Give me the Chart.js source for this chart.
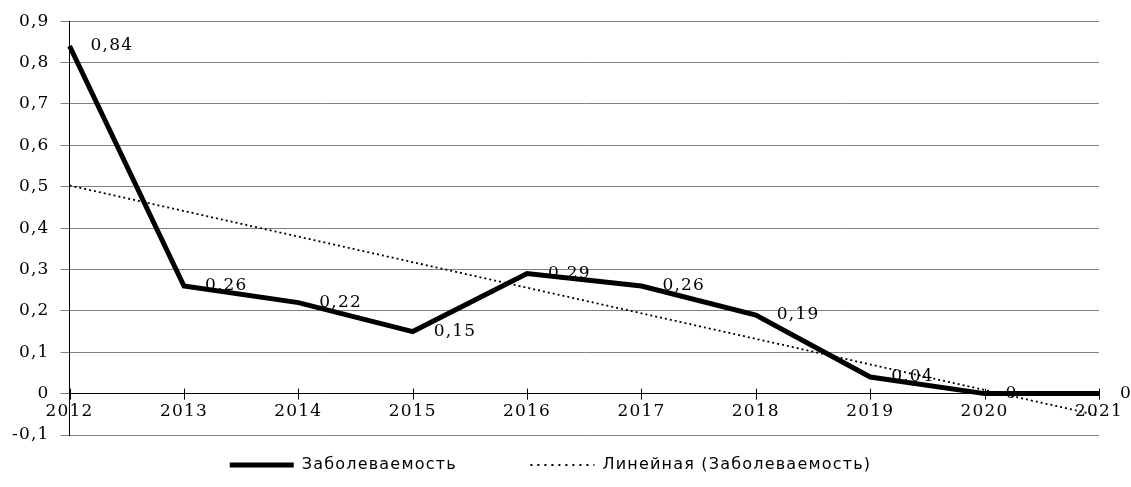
<!DOCTYPE html>
<html>
<head>
<meta charset="utf-8">
<script src="https://cdn.jsdelivr.net/npm/chart.js@4"></script>
<style>
  html, body { margin: 0; padding: 0; background: #fff; }
  #wrap { width: 1131px; height: 487px; }
</style>
</head>
<body>
<div id="wrap"><canvas id="incidenceChart"></canvas></div>
<script>
const years = ["2012", "2013", "2014", "2015", "2016", "2017", "2018", "2019", "2020", "2021"];
const incidence = [0.84, 0.26, 0.22, 0.15, 0.29, 0.26, 0.19, 0.04, 0, 0];
// linear trend, only the two end points are kept
const trend = [0.503, null, null, null, null, null, null, null, null, -0.053];
const seriesNames = ["Заболеваемость", "Линейная (Заболеваемость)"];
const yMin = -0.1;
const yMax = 0.9;

const serif = "'DejaVu Serif', 'Liberation Serif', serif";
const sans = "'DejaVu Sans', Verdana, sans-serif";

function fmt(v) {
  return String(Math.round(v * 100) / 100).replace(".", ",");
}

// slightly wider lettering for every text on the canvas
const spacing = {
  id: "spacing",
  beforeLayout(chart) { chart.ctx.letterSpacing = "1.2px"; },
  beforeDraw(chart) { chart.ctx.letterSpacing = "1.2px"; },
};

// value labels next to each point of the main series
const valueLabels = {
  id: "valueLabels",
  afterDatasetsDraw(chart) {
    const meta = chart.getDatasetMeta(0);
    const ctx = chart.ctx;
    ctx.save();
    ctx.font = "17px " + serif;
    ctx.fillStyle = "#000";
    ctx.textAlign = "left";
    ctx.textBaseline = "middle";
    meta.data.forEach((pt, i) => {
      ctx.fillText(fmt(incidence[i]), pt.x + 21, pt.y);
    });
    ctx.restore();
  },
};

// tick marks crossing the category axis
const crossTicks = {
  id: "crossTicks",
  afterDraw(chart) {
    const x = chart.scales.x;
    const y0 = chart.scales.y.getPixelForValue(0);
    const ctx = chart.ctx;
    ctx.save();
    ctx.strokeStyle = "#000";
    ctx.lineWidth = 1;
    ctx.beginPath();
    years.forEach((_, i) => {
      const px = Math.round(x.getPixelForTick(i)) + 0.5;
      ctx.moveTo(px, y0 - 5);
      ctx.lineTo(px, y0 + 6);
    });
    ctx.stroke();
    ctx.restore();
  },
};

const ctx = document.getElementById("incidenceChart").getContext("2d");
new Chart(ctx, {
  type: "line",
  data: {
    labels: years,
    datasets: [
      {
        label: seriesNames[0],
        data: incidence,
        borderColor: "#000",
        backgroundColor: "#000",
        borderWidth: 5,
        borderJoinStyle: "miter",
        pointRadius: 0,
        tension: 0,
        order: 2,
      },
      {
        label: seriesNames[1],
        data: trend,
        spanGaps: true,
        borderColor: "#000",
        backgroundColor: "#000",
        borderWidth: 1.8,
        borderDash: [2, 3],
        pointRadius: 0,
        tension: 0,
        order: 1,
      },
    ],
  },
  options: {
    responsive: true,
    maintainAspectRatio: false,
    animation: false,
    layout: {
      padding: { top: 12, right: 31, left: 1, bottom: 4 },
    },
    plugins: {
      legend: {
        position: "bottom",
        labels: {
          color: "#000",
          font: { family: sans, size: 16 },
          boxWidth: 64,
          boxHeight: 0,
          padding: 22,
          generateLabels(chart) {
            return chart.data.datasets.map((ds, i) => ({
              // trailing spaces keep the wide gap between the two entries
              text: i === 0 ? ds.label + "\u2003\u2003\u2003" : ds.label,
              fillStyle: "#000",
              strokeStyle: "#000",
              lineWidth: i === 0 ? 5 : 2.2,
              lineDash: i === 0 ? [] : [2, 5],
              lineCap: i === 0 ? "round" : "butt",
              fontColor: "#000",
              datasetIndex: i,
              hidden: false,
            }));
          },
        },
      },
      tooltip: { enabled: false },
    },
    scales: {
      x: {
        position: { y: 0 },
        offset: false,
        grid: { display: false, drawTicks: false },
        border: { display: true, color: "#000", width: 1 },
        ticks: {
          color: "#000",
          font: { family: serif, size: 17 },
          maxRotation: 0,
          autoSkip: false,
          padding: 8,
        },
      },
      y: {
        min: yMin,
        max: yMax,
        grid: {
          color: "#7f7f7f",
          lineWidth: 1,
          tickLength: 9,
          tickColor: "#7f7f7f",
        },
        border: { display: true, color: "#000", width: 1 },
        ticks: {
          stepSize: 0.1,
          color: "#000",
          font: { family: serif, size: 17 },
          padding: 11,
          callback: (v) => fmt(v),
        },
      },
    },
  },
  plugins: [spacing, valueLabels, crossTicks],
});
</script>
</body>
</html>
